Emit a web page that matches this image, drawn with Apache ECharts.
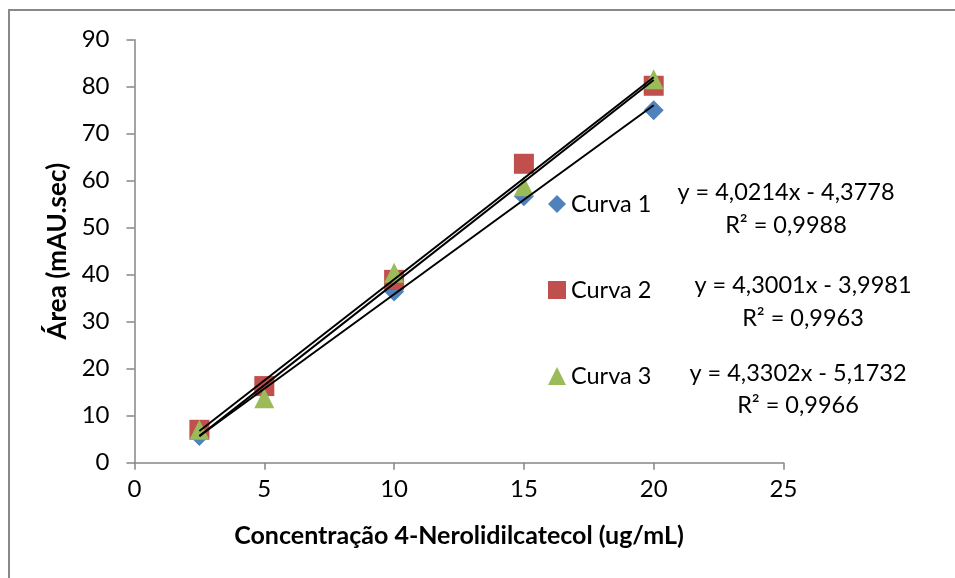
<!DOCTYPE html>
<html>
<head>
<meta charset="utf-8">
<script src="https://cdn.jsdelivr.net/npm/echarts@6/dist/echarts.min.js"></script>
<style>
  html, body { margin: 0; padding: 0; background: #fff; }
  #chart { width: 955px; height: 578px; }
</style>
</head>
<body>
<div id="chart"></div>
<script>
// ---- Data ----
const concentrations = [2.5, 5, 10, 15, 20];
const curva1 = [5.7, 15.5, 36.4, 56.7, 75.0];
const curva2 = [7.0, 16.3, 38.9, 63.6, 80.2];
const curva3 = [7.0, 13.7, 40.4, 58.8, 81.6];
const seriesNames = ['Curva 1', 'Curva 2', 'Curva 3'];
const slopes = [4.0214, 4.3001, 4.3302];
const intercepts = [-4.3778, -3.9981, -5.1732];
const r2Values = [0.9988, 0.9963, 0.9966];
const xTicks = { min: 0, max: 25, interval: 5 };
const yTicks = { min: 0, max: 90, interval: 10 };
const xTitle = 'Concentração 4-Nerolidilcatecol (ug/mL)';
const yTitle = 'Área (mAU.sec)';

// ---- Styling ----
const FONT = 'Lato';
const colors = ['#4F81BD', '#C0504D', '#9BBB59'];
const symbols = ['diamond', 'rect', 'triangle'];
const allValues = [curva1, curva2, curva3];

const fmt = v => v.toFixed(4).replace('.', ',');
const eqText = i => 'y = ' + fmt(slopes[i]) + 'x ' + (intercepts[i] < 0 ? '- ' : '+ ') + fmt(Math.abs(intercepts[i]));
const r2Text = i => 'R² = ' + fmt(r2Values[i]);

const series = [];
allValues.forEach((vals, i) => {
  series.push({
    name: seriesNames[i],
    type: 'scatter',
    symbol: symbols[i],
    symbolSize: 20,
    itemStyle: { color: colors[i], opacity: 1 },
    data: concentrations.map((x, k) => [x, vals[k]]),
    z: 2 + i,
    emphasis: { disabled: true }
  });
});
allValues.forEach((vals, i) => {
  const x0 = concentrations[0], x1 = concentrations[concentrations.length - 1];
  series.push({
    name: 'Linear (' + seriesNames[i] + ')',
    type: 'line',
    showSymbol: false,
    symbol: 'none',
    lineStyle: { color: '#000', width: 2 },
    data: [[x0, slopes[i] * x0 + intercepts[i]], [x1, slopes[i] * x1 + intercepts[i]]],
    z: 10,
    silent: true
  });
});

const eqPos = [[786, 192, 225], [803, 285, 318], [798, 373, 405]];
const graphics = [{
  type: 'rect',
  shape: { x: 9, y: 10, width: 1000, height: 600 },
  style: { fill: 'none', stroke: '#898989', lineWidth: 2 },
  z: 0
}];
eqPos.forEach((p, i) => {
  graphics.push({
    type: 'text', x: p[0], y: p[1], z: 20,
    style: { text: eqText(i), align: 'center', verticalAlign: 'middle', fontSize: 23.5, fontFamily: FONT, fill: '#000' }
  });
  graphics.push({
    type: 'text', x: p[0], y: p[2], z: 20,
    style: { text: r2Text(i), align: 'center', verticalAlign: 'middle', fontSize: 23.5, fontFamily: FONT, fill: '#000' }
  });
});

const axisLine = { show: true, lineStyle: { color: '#868686', width: 1.5 } };
const chart = echarts.init(document.getElementById('chart'), null, { renderer: 'canvas' });
chart.setOption({
  animation: false,
  backgroundColor: '#fff',
  grid: { left: 134.5, right: 171.5, top: 39.7, bottom: 115.3, containLabel: false },
  xAxis: {
    type: 'value', min: xTicks.min, max: xTicks.max, interval: xTicks.interval,
    axisLine: axisLine,
    axisTick: { show: true, inside: false, length: 7, lineStyle: { color: '#868686', width: 1.5 } },
    splitLine: { show: false },
    axisLabel: { fontSize: 24, fontFamily: FONT, color: '#000', margin: 15 },
    name: xTitle, nameLocation: 'middle', nameGap: 61,
    nameTextStyle: { fontSize: 25, fontWeight: 'bold', fontFamily: FONT, color: '#000' }
  },
  yAxis: {
    type: 'value', min: yTicks.min, max: yTicks.max, interval: yTicks.interval,
    axisLine: axisLine,
    axisTick: { show: true, inside: false, length: 8, lineStyle: { color: '#868686', width: 1.5 } },
    splitLine: { show: false },
    axisLabel: { fontSize: 24, fontFamily: FONT, color: '#000', margin: 25 },
    name: yTitle, nameLocation: 'middle', nameGap: 59, nameRotate: 90,
    nameTextStyle: { fontSize: 26, fontWeight: 'bold', fontFamily: FONT, color: '#000' }
  },
  legend: {
    orient: 'vertical', left: 543, top: 187,
    itemWidth: 18, itemHeight: 18, itemGap: 62,
    textStyle: { fontSize: 23.5, fontFamily: FONT, color: '#000', lineHeight: 22 },
    data: seriesNames.map((n, i) => ({ name: n, icon: symbols[i] })),
    selectedMode: false
  },
  graphic: graphics,
  series: series
});
</script>
</body>
</html>
